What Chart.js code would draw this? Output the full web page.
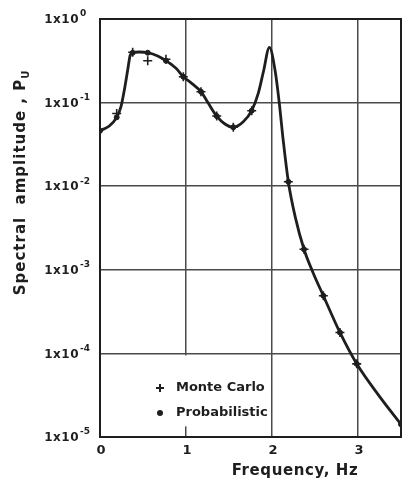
<!DOCTYPE html>
<html>
<head>
<meta charset="utf-8">
<script src="https://cdn.jsdelivr.net/npm/chart.js@4.4.0/dist/chart.umd.min.js"></script>
<style>
  html, body { margin: 0; padding: 0; background: #fff; }
</style>
</head>
<body>
<canvas id="chart" width="411" height="490"></canvas>
<script>
// Curve (Hz, amplitude)
const curveFreq = [0, 0.108, 0.194, 0.244, 0.283, 0.322, 0.352, 0.38, 0.457, 0.555, 0.671, 0.767, 0.884, 0.969,
  1.066, 1.174, 1.26, 1.357, 1.453, 1.55, 1.666, 1.764, 1.84, 1.9, 1.97, 2.035, 2.085, 2.13, 2.19, 2.27, 2.372,
  2.48, 2.597, 2.79, 2.985, 3.256, 3.5];
const curveAmp = [0.046, 0.0525, 0.0667, 0.0893, 0.1415, 0.245, 0.371, 0.395, 0.403, 0.395, 0.361, 0.317, 0.257, 0.204,
  0.170, 0.135, 0.098, 0.069, 0.0555, 0.0507, 0.059, 0.080, 0.129, 0.234, 0.458, 0.245, 0.098, 0.0357, 0.0113, 0.0043, 0.00176,
  9.1e-4, 4.9e-4, 1.78e-4, 7.5e-5, 3.0e-5, 1.42e-5];

// Probabilistic points
const probFreq = [0, 0.194, 0.38, 0.555, 0.767, 0.969, 1.174, 1.357, 1.55, 1.764, 2.19, 2.372, 2.597, 2.79, 2.985, 3.5];
const probAmp = [0.046, 0.0667, 0.395, 0.395, 0.317, 0.204, 0.135, 0.069, 0.0507, 0.080, 0.0113, 0.00176, 4.9e-4, 1.78e-4, 7.5e-5, 1.42e-5];

// Monte Carlo points
const mcFreq = [0.194, 0.38, 0.555, 0.767, 0.969, 1.174, 1.357, 1.55, 1.764, 2.19, 2.372, 2.597, 2.79, 2.985];
const mcAmp = [0.074, 0.40, 0.317, 0.33, 0.204, 0.135, 0.069, 0.0507, 0.080, 0.0113, 0.00176, 4.9e-4, 1.78e-4, 7.5e-5];

const xTicks = [0, 1, 2, 3];
const yTicks = [1, 1e-1, 1e-2, 1e-3, 1e-4, 1e-5];
const yExponents = ['0', '-1', '-2', '-3', '-4', '-5'];

const ink = '#1e1e1e';
const FONT = '"DejaVu Sans", sans-serif';

function pts(xs, ys) {
  return xs.map((x, i) => ({ x: x, y: ys[i] }));
}

// Labels, frame and legend drawn on top of the chart
const paperPlugin = {
  id: 'paper',
  beforeDatasetsDraw(chart) {
    const ctx = chart.ctx;
    const a = chart.chartArea;
    const x = chart.scales.x;
    const y = chart.scales.y;
    ctx.save();
    // legend box blanks the grid behind it
    ctx.fillStyle = '#fff';
    ctx.fillRect(x.getPixelForValue(0.6), y.getPixelForValue(1e-4) + 2, x.getPixelForValue(1.95) - x.getPixelForValue(0.6), 71);
    ctx.strokeStyle = ink;
    ctx.lineWidth = 2;
    ctx.strokeRect(a.left, a.top, a.right - a.left, a.bottom - a.top);
    ctx.restore();
  },
  afterDraw(chart) {
    const ctx = chart.ctx;
    const x = chart.scales.x;
    const y = chart.scales.y;
    ctx.save();
    ctx.fillStyle = ink;

    // y tick labels 1x10^n
    yTicks.forEach((v, i) => {
      const py = y.getPixelForValue(v);
      ctx.letterSpacing = '0.5px';
      ctx.font = 'bold 12px ' + FONT;
      ctx.textAlign = 'right';
      ctx.textBaseline = 'middle';
      ctx.fillText('1x10', 79, py + 1);
      ctx.letterSpacing = '0px';
      ctx.font = 'bold 9px ' + FONT;
      ctx.textAlign = 'left';
      ctx.fillText(yExponents[i], 80, py - 5);
    });

    // x tick labels
    ctx.font = 'bold 13px ' + FONT;
    ctx.textAlign = 'center';
    ctx.textBaseline = 'middle';
    xTicks.forEach(v => {
      ctx.fillText(String(v), x.getPixelForValue(v) + 1, 451);
    });

    // x title
    ctx.letterSpacing = '0.6px';
    ctx.font = 'bold 15px ' + FONT;
    ctx.fillText('Frequency, Hz', 295, 471);

    // y title with subscript
    ctx.save();
    ctx.translate(21, 182);
    ctx.rotate(-Math.PI / 2);
    ctx.letterSpacing = '1px';
    ctx.font = 'bold 15px ' + FONT;
    ctx.textAlign = 'left';
    const main = 'Spectral  amplitude , P';
    const w = ctx.measureText(main).width;
    ctx.fillText(main, -w / 2 - 5, 0);
    ctx.font = 'bold 10px ' + FONT;
    ctx.fillText('U', w / 2 - 5, 5);
    ctx.restore();

    // legend
    const lx = 160;
    ctx.letterSpacing = '0px';
    ctx.strokeStyle = ink;
    ctx.lineWidth = 2;
    ctx.beginPath();
    ctx.moveTo(lx - 4, 388); ctx.lineTo(lx + 4, 388);
    ctx.moveTo(lx, 384); ctx.lineTo(lx, 392);
    ctx.stroke();
    ctx.beginPath();
    ctx.arc(lx, 413, 3, 0, Math.PI * 2);
    ctx.fill();
    ctx.font = 'bold 13px ' + FONT;
    ctx.textAlign = 'left';
    ctx.fillText('Monte Carlo', 176, 388);
    ctx.fillText('Probabilistic', 176, 413);
    ctx.restore();
  }
};

const chart = new Chart(document.getElementById('chart'), {
  type: 'scatter',
  data: {
    datasets: [
      {
        label: 'curve',
        data: pts(curveFreq, curveAmp),
        showLine: true,
        borderColor: ink,
        borderWidth: 2.8,
        pointRadius: 0,
        cubicInterpolationMode: 'monotone'
      },
      {
        label: 'Probabilistic',
        data: pts(probFreq, probAmp),
        showLine: false,
        pointStyle: 'circle',
        pointRadius: 2.5,
        backgroundColor: ink,
        borderColor: ink
      },
      {
        label: 'Monte Carlo',
        data: pts(mcFreq, mcAmp),
        showLine: false,
        pointStyle: 'cross',
        pointRadius: 4.5,
        borderWidth: 1.6,
        borderColor: ink
      }
    ]
  },
  options: {
    responsive: false,
    animation: false,
    devicePixelRatio: 1,
    layout: { padding: { top: 19, right: 10, left: 0, bottom: 0 } },
    plugins: { legend: { display: false }, tooltip: { enabled: false } },
    scales: {
      x: {
        type: 'linear',
        min: 0,
        max: 3.5,
        afterBuildTicks: ax => { ax.ticks = xTicks.map(v => ({ value: v })); },
        afterFit: ax => { ax.height = 53; },
        ticks: { display: false },
        grid: { color: '#4a4a4a', lineWidth: 1.5, drawTicks: false },
        border: { display: false }
      },
      y: {
        type: 'logarithmic',
        min: 1e-5,
        max: 1,
        afterBuildTicks: ax => { ax.ticks = yTicks.map(v => ({ value: v })); },
        afterFit: ax => { ax.width = 100; },
        ticks: { display: false },
        grid: { color: '#4a4a4a', lineWidth: 1.5, drawTicks: false },
        border: { display: false }
      }
    }
  },
  plugins: [paperPlugin]
});
</script>
</body>
</html>
